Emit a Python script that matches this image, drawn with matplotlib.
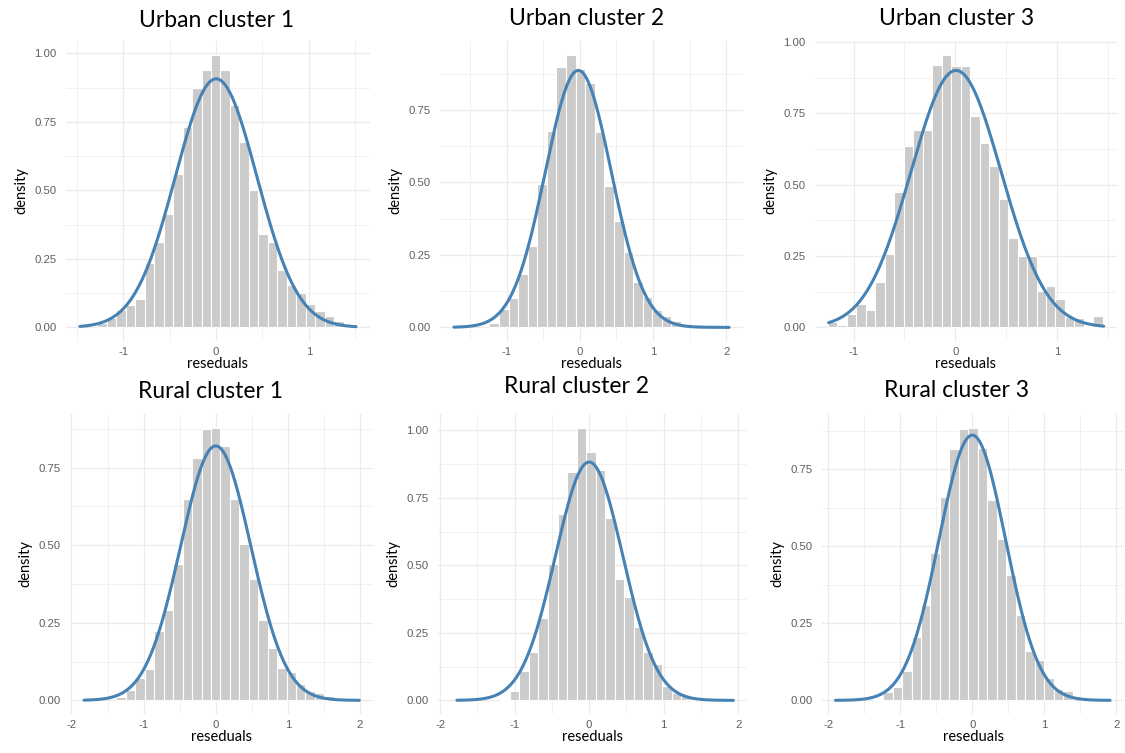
import numpy as np
import matplotlib.pyplot as plt
from matplotlib.ticker import MultipleLocator, FormatStrFormatter

plt.rcParams['axes.unicode_minus'] = False

titles = ['Urban cluster 1', 'Urban cluster 2', 'Urban cluster 3',
          'Rural cluster 1', 'Rural cluster 2', 'Rural cluster 3']

# histogram densities (left to right)
u1_dens = [0.015, 0.035, 0.065, 0.08, 0.105, 0.235, 0.31, 0.415, 0.56, 0.73, 0.875, 0.94, 0.995,
           0.94, 0.81, 0.675, 0.50, 0.34, 0.31, 0.21, 0.155, 0.125, 0.085, 0.06, 0.043, 0.025]
u2_dens = [0.015, 0.065, 0.10, 0.185, 0.28, 0.495, 0.677, 0.898, 0.941, 0.892, 0.843, 0.673,
           0.487, 0.366, 0.259, 0.155, 0.104, 0.061, 0.040, 0.023]
u3_dens = [0.018, 0.009, 0.047, 0.082, 0.062, 0.16, 0.257, 0.475, 0.634, 0.693, 0.693, 0.918,
           0.956, 0.917, 0.917, 0.742, 0.646, 0.567, 0.451, 0.312, 0.249, 0.249, 0.129, 0.144,
           0.099, 0.035, 0.033, 0.0, 0.041]
r1_dens = [0.012, 0.034, 0.073, 0.10, 0.225, 0.29, 0.44, 0.65, 0.78, 0.875, 0.879, 0.82, 0.648,
           0.505, 0.39, 0.258, 0.17, 0.104, 0.093, 0.054, 0.03, 0.025, 0.014]
r2_dens = [0.006, 0.035, 0.11, 0.18, 0.306, 0.506, 0.689, 0.846, 1.01, 0.918, 0.854, 0.677,
           0.448, 0.383, 0.272, 0.179, 0.136, 0.052, 0.028, 0.019, 0.005]
r3_dens = [0.005, 0.027, 0.043, 0.094, 0.206, 0.309, 0.479, 0.661, 0.816, 0.883, 0.886, 0.820,
           0.65, 0.525, 0.406, 0.276, 0.159, 0.13, 0.073, 0.038, 0.029]

# left edge of first bin, bin width
bins = [(-1.283, 0.1023), (-1.236, 0.131), (-1.252, 0.0932),
        (-1.376, 0.131), (-1.193, 0.128), (-1.372, 0.1318)]

# normal fit: mean, sd, x from, x to
fits = [(0.0, 0.440, -1.47, 1.51), (-0.02, 0.450, -1.72, 2.04), (0.007, 0.443, -1.246, 1.459),
        (0.0, 0.4865, -1.825, 1.99), (0.0, 0.452, -1.776, 1.937), (0.0, 0.463, -1.903, 1.917)]

# x range shown in each panel
xlims = [(-1.62, 1.66), (-1.91, 2.23), (-1.38, 1.59),
         (-2.02, 2.18), (-2.03, 2.12), (-2.09, 2.11)]

dens = [u1_dens, u2_dens, u3_dens, r1_dens, r2_dens, r3_dens]

W, H = 1125, 753
fig = plt.figure(figsize=(W / 100, H / 100), dpi=100)

# panel boxes in pixels: left, top, right, bottom
boxes = [(66, 41, 370, 341), (440, 41, 743, 341), (815, 41, 1117, 341),
         (70, 414, 373, 714), (438, 414, 747, 714), (822, 414, 1124, 714)]
title_xy = [(217, 27), (587, 25), (957, 25), (211, 398), (577, 393), (957, 397)]

for i in range(6):
    l, t, r, b = boxes[i]
    ax = fig.add_axes([l / W, 1 - b / H, (r - l) / W, (b - t) / H])
    h = np.array(dens[i])
    x0, bw = bins[i]
    lefts = x0 + bw * np.arange(len(h))
    ax.bar(lefts, h, width=bw, align='edge', color='#CBCBCB', edgecolor='white', linewidth=0.8, zorder=2)

    mu, sd, lo, hi = fits[i]
    xs = np.linspace(lo, hi, 300)
    ys = np.exp(-0.5 * ((xs - mu) / sd) ** 2) / (sd * np.sqrt(2 * np.pi))
    ax.plot(xs, ys, color='#4682B4', lw=2.2, zorder=3, solid_capstyle='round')

    ymax = max(h.max(), ys.max())
    ax.set_xlim(*xlims[i])
    ax.set_ylim(-0.05 * ymax, 1.05 * ymax)

    ax.xaxis.set_major_locator(MultipleLocator(1))
    ax.xaxis.set_minor_locator(MultipleLocator(0.5))
    ax.yaxis.set_major_locator(MultipleLocator(0.25))
    ax.yaxis.set_minor_locator(MultipleLocator(0.125))
    ax.xaxis.set_major_formatter(FormatStrFormatter('%d'))
    ax.yaxis.set_major_formatter(FormatStrFormatter('%.2f'))
    ax.grid(which='major', color='#EBEBEB', lw=0.9)
    ax.grid(which='minor', color='#EBEBEB', lw=0.5)
    ax.set_axisbelow(True)
    for s in ax.spines.values():
        s.set_visible(False)
    ax.tick_params(which='both', length=0, labelsize=8.2, labelcolor='#5E5E5E')
    ax.tick_params(axis='y', pad=7)
    ax.tick_params(axis='x', pad=4)
    for lab in ax.get_xticklabels() + ax.get_yticklabels():
        lab.set_family('Liberation Sans')

    ax.set_xlabel('reseduals', family='Lato', fontsize=10.5, labelpad=0)
    ax.set_ylabel('density', family='Lato', fontsize=10.5, labelpad=4)

    tx, ty = title_xy[i]
    fig.text(tx / W, 1 - ty / H, titles[i], ha='center', va='baseline', family='Lato', fontsize=16.5)

fig.savefig('out.png', dpi=100, facecolor='white')
